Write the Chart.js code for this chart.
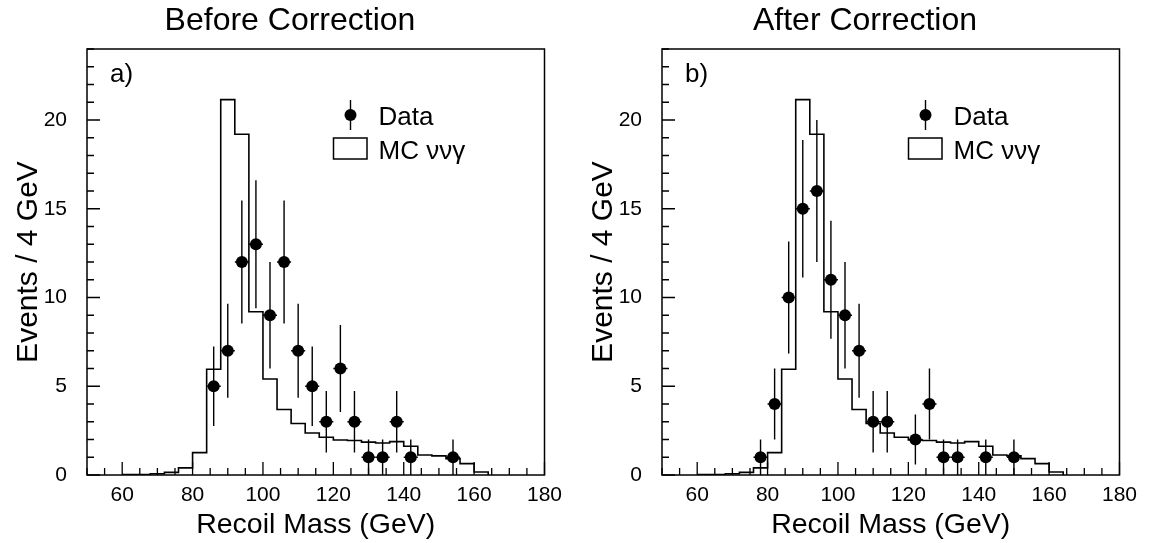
<!DOCTYPE html>
<html>
<head>
<meta charset="utf-8">
<script src="https://cdn.jsdelivr.net/npm/chart.js@4.4.1/dist/chart.umd.min.js"></script>
<style>
  html, body { margin: 0; padding: 0; background: #fff; }
  #wrap { position: relative; width: 1150px; height: 543px; }
  canvas { position: absolute; top: 0; }
</style>
</head>
<body>
<div id="wrap">
  <canvas id="before" width="575" height="543" style="left:0"></canvas>
  <canvas id="after" width="575" height="543" style="left:575px"></canvas>
</div>
<script>
// MC nu nu gamma histogram, 4 GeV bins (low edges), same in both panels
const mcBinLow = [60, 64, 68, 72, 76, 80, 84, 88, 92, 96, 100, 104, 108, 112, 116, 120, 124, 128, 132, 136, 140, 144, 148, 152, 156, 160];
const mcValues = [0.02, 0.03, 0.07, 0.15, 0.4, 1.26, 5.96, 21.15, 19.2, 9.2, 5.41, 3.69, 2.9, 2.37, 2.13, 1.97, 1.94, 1.85, 1.8, 1.88, 1.62, 1.13, 1.08, 0.92, 0.64, 0.17];
const mcLastEdge = 164;

// data before correction
const beforeMass = [86, 90, 94, 98, 102, 106, 110, 114, 118, 122, 126, 130, 134, 138, 142, 154];
const beforeEvents = [5, 7, 12, 13, 9, 12, 7, 5, 3, 6, 3, 1, 1, 3, 1, 1];
const beforeErrors = [2.24, 2.65, 3.46, 3.61, 3, 3.46, 2.65, 2.24, 1.73, 2.45, 1.73, 1, 1, 1.73, 1, 1];

// data after correction
const afterMass = [78, 82, 86, 90, 94, 98, 102, 106, 110, 114, 122, 126, 130, 134, 142, 150];
const afterEvents = [1, 4, 10, 15, 16, 11, 9, 7, 3, 3, 2, 4, 1, 1, 1, 1];
const afterErrors = [1, 2, 3.16, 3.87, 4, 3.32, 3, 2.65, 1.73, 1.73, 1.41, 2, 1, 1, 1, 1];

const binHalfWidth = 2;
const xTickLabels = [60, 80, 100, 120, 140, 160, 180];
const yTickLabels = [0, 5, 10, 15, 20];

const FONT = '"Liberation Sans", Arial, Helvetica, sans-serif';
Chart.defaults.font.family = FONT;
Chart.defaults.color = "#000";

const histPoints = mcBinLow.map((x, i) => ({ x: x, y: mcValues[i] }));
histPoints.push({ x: mcLastEdge, y: 0 });

const decor = {
  id: "decor",
  beforeDatasetsDraw(chart, args, opts) {
    const ctx = chart.ctx;
    const xs = chart.scales.x, ys = chart.scales.y;
    ctx.save();
    ctx.strokeStyle = "#000";
    ctx.lineWidth = 1.4;
    opts.mass.forEach((m, i) => {
      const px = xs.getPixelForValue(m);
      const py = ys.getPixelForValue(opts.events[i]);
      ctx.beginPath();
      ctx.moveTo(px, ys.getPixelForValue(Math.max(0, opts.events[i] - opts.errors[i])));
      ctx.lineTo(px, ys.getPixelForValue(opts.events[i] + opts.errors[i]));
      ctx.moveTo(xs.getPixelForValue(m - binHalfWidth), py);
      ctx.lineTo(xs.getPixelForValue(m + binHalfWidth), py);
      ctx.stroke();
    });
    ctx.restore();
  },
  afterDraw(chart, args, opts) {
    const ctx = chart.ctx;
    const a = chart.chartArea;
    const xs = chart.scales.x, ys = chart.scales.y;
    ctx.save();
    ctx.strokeStyle = "#000";
    ctx.fillStyle = "#000";

    // inner ticks
    ctx.lineWidth = 1.3;
    ctx.beginPath();
    for (let v = 50; v <= 180; v += 5) {
      const px = xs.getPixelForValue(v);
      const len = v % 20 === 0 ? 13 : 7;
      ctx.moveTo(px, a.bottom);
      ctx.lineTo(px, a.bottom - len);
    }
    for (let v = 0; v <= 24; v += 1) {
      const py = ys.getPixelForValue(v);
      const len = v % 5 === 0 ? 13 : 7;
      ctx.moveTo(a.left, py);
      ctx.lineTo(a.left + len, py);
    }
    ctx.stroke();

    // frame
    ctx.lineWidth = 1.5;
    ctx.strokeRect(a.left, a.top, a.right - a.left, a.bottom - a.top);

    // title
    ctx.textAlign = "center";
    ctx.textBaseline = "alphabetic";
    ctx.font = opts.titleSize + "px " + FONT;
    ctx.fillText(opts.title, opts.titleX, opts.titleY);

    // panel label
    ctx.textAlign = "left";
    ctx.font = "26px " + FONT;
    ctx.fillText(opts.label, a.left + 23, a.top + 32.5);

    // legend
    const mx = a.left + 263.5, my = a.top + 66;
    ctx.lineWidth = 1.4;
    ctx.beginPath();
    ctx.moveTo(mx, my - 15);
    ctx.lineTo(mx, my + 15);
    ctx.stroke();
    ctx.beginPath();
    ctx.arc(mx, my, 6, 0, Math.PI * 2);
    ctx.fill();
    ctx.fillText("Data", a.left + 291.5, a.top + 75.5);
    ctx.lineWidth = 1.5;
    ctx.strokeRect(a.left + 246.5, a.top + 89, 33.5, 21);
    ctx.fillText("MC \u03bd\u03bd\u03b3", a.left + 291.5, a.top + 110);
    ctx.restore();
  }
};

function makeChart(id, mass, events, errors, title, label) {
  return new Chart(document.getElementById(id), {
    type: "line",
    data: {
      datasets: [
        {
          label: "MC",
          data: histPoints,
          stepped: "before",
          borderColor: "#000",
          borderWidth: 1.6,
          pointRadius: 0,
          fill: false
        },
        {
          label: "Data",
          data: mass.map((m, i) => ({ x: m, y: events[i] })),
          showLine: false,
          pointRadius: 6,
          pointBackgroundColor: "#000",
          pointBorderWidth: 0
        }
      ]
    },
    options: {
      responsive: false,
      devicePixelRatio: 1,
      animation: false,
      layout: { padding: { top: 49, right: 30.5, left: 0, bottom: 0 } },
      scales: {
        x: {
          type: "linear",
          min: 50,
          max: 180,
          grid: { display: false, drawTicks: false },
          border: { display: false },
          ticks: { font: { size: 21 }, color: "#000", padding: 8, maxRotation: 0 },
          afterBuildTicks: (axis) => { axis.ticks = xTickLabels.map(v => ({ value: v })); },
          afterFit: (axis) => { axis.height = 68; },
          title: { display: true, text: "Recoil Mass (GeV)", font: { size: 28.5 }, color: "#000", padding: { top: 0, bottom: 1 } }
        },
        y: {
          type: "linear",
          min: 0,
          max: 24,
          grid: { display: false, drawTicks: false },
          border: { display: false },
          ticks: { font: { size: 21 }, color: "#000", padding: 20 },
          afterBuildTicks: (axis) => { axis.ticks = yTickLabels.map(v => ({ value: v })); },
          afterFit: (axis) => { axis.width = 87; },
          title: { display: true, text: "Events / 4 GeV", font: { size: 30 }, color: "#000", padding: { top: 11, bottom: 0 } }
        }
      },
      plugins: {
        legend: { display: false },
        tooltip: { enabled: false },
        decor: {
          mass: mass, events: events, errors: errors,
          title: title, titleSize: 32, titleX: 290, titleY: 29.5, label: label
        }
      }
    },
    plugins: [decor]
  });
}

makeChart("before", beforeMass, beforeEvents, beforeErrors, "Before Correction", "a)");
makeChart("after", afterMass, afterEvents, afterErrors, "After Correction", "b)");
</script>
</body>
</html>
